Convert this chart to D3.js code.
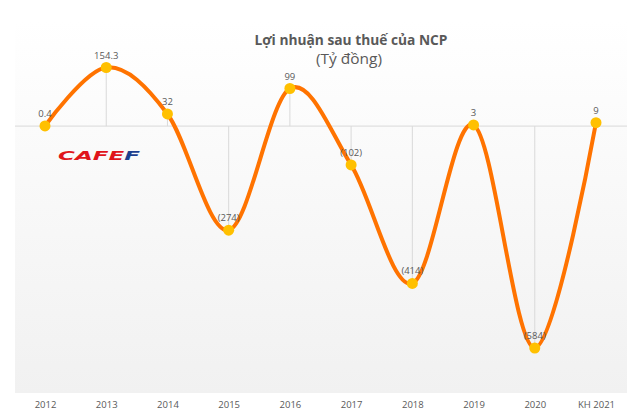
<!DOCTYPE html>
<html>
<head>
  <meta charset="utf-8">
  <title>Lợi nhuận sau thuế của NCP</title>
  <script src="https://cdn.jsdelivr.net/npm/d3@7"></script>
  <style>
    body { margin: 0; background: #fff; }
    text { font-family: "Open Sans", "DejaVu Sans", sans-serif; }
  </style>
</head>
<body>
<div id="container"></div>
<script>
  var years = ["2012", "2013", "2014", "2015", "2016", "2017", "2018", "2019", "2020", "KH 2021"];
  var profit = [0.4, 154.3, 32, -274, 99, -102, -414, 3, -584, 9];
  var valueLabels = ["0.4", "154.3", "32", "(274)", "99", "(102)", "(414)", "3", "(584)", "9"];

  var width = 640, height = 417;
  var plot = {left: 15, right: 627, top: 20, bottom: 393};

  var svg = d3.select("#container").append("svg")
    .attr("width", width).attr("height", height);

  // plot area background, white fading to light grey
  var grad = svg.append("defs").append("linearGradient")
    .attr("id", "bg").attr("x1", 0).attr("y1", 0).attr("x2", 0).attr("y2", 1);
  grad.append("stop").attr("offset", "0%").attr("stop-color", "#ffffff");
  grad.append("stop").attr("offset", "100%").attr("stop-color", "#f1f1f1");
  svg.append("rect")
    .attr("x", plot.left).attr("y", plot.top)
    .attr("width", plot.right - plot.left).attr("height", plot.bottom - plot.top)
    .attr("fill", "url(#bg)");

  var x = d3.scalePoint().domain(years).range([45, 596]);
  var y = d3.scaleLinear().domain([-584, 154.3]).range([348, 67.5]);

  // title
  svg.append("text").attr("x", 351).attr("y", 45).attr("text-anchor", "middle")
    .style("font-size", "14.5px").style("font-weight", "bold").style("fill", "#595959")
    .attr("textLength", 193).attr("lengthAdjust", "spacingAndGlyphs")
    .text("Lợi nhuận sau thuế của NCP");
  svg.append("text").attr("x", 349).attr("y", 64).attr("text-anchor", "middle")
    .style("font-size", "14px").style("fill", "#595959")
    .attr("textLength", 66).attr("lengthAdjust", "spacingAndGlyphs")
    .text("(Tỷ đồng)");

  // zero axis
  svg.append("line")
    .attr("x1", plot.left).attr("x2", plot.right)
    .attr("y1", y(0)).attr("y2", y(0))
    .attr("stroke", "#d9d9d9").attr("stroke-width", 1);

  // drop lines
  svg.append("g").selectAll("line").data(profit).enter().append("line")
    .attr("x1", function(d, i){ return x(years[i]); })
    .attr("x2", function(d, i){ return x(years[i]); })
    .attr("y1", function(d){ return y(d); })
    .attr("y2", y(0))
    .attr("stroke", "#d9d9d9").attr("stroke-width", 1);

  // logo
  var logo = svg.append("text").attr("x", 58).attr("y", 160)
    .style("font-size", "13px").style("font-weight", "bold").style("font-style", "italic")
    .style("font-family", "\"DejaVu Sans\", sans-serif")
    .attr("textLength", 82).attr("lengthAdjust", "spacingAndGlyphs");
  logo.append("tspan").attr("fill", "#e0151b").text("CAFE");
  logo.append("tspan").attr("fill", "#1d3f8f").text("F");

  // smoothed line
  var line = d3.line()
    .x(function(d, i){ return x(years[i]); })
    .y(function(d){ return y(d); })
    .curve(d3.curveCardinal.tension(0));
  svg.append("path").datum(profit)
    .attr("d", line)
    .attr("fill", "none").attr("stroke", "#ff7300").attr("stroke-width", 4)
    .attr("stroke-linecap", "round");

  // markers
  svg.append("g").selectAll("circle").data(profit).enter().append("circle")
    .attr("cx", function(d, i){ return x(years[i]); })
    .attr("cy", function(d){ return y(d); })
    .attr("r", 5.5).attr("fill", "#ffc000");

  // value labels
  svg.append("g").selectAll("text").data(profit).enter().append("text")
    .attr("x", function(d, i){ return x(years[i]); })
    .attr("y", function(d){ return y(d) - 9; })
    .attr("text-anchor", "middle")
    .style("font-size", "9.5px").style("fill", "#595959")
    .text(function(d, i){ return valueLabels[i]; });

  // x axis labels
  var xAxis = d3.axisBottom(x).tickSize(0).tickPadding(8);
  var gx = svg.append("g").attr("transform", "translate(0," + plot.bottom + ")").call(xAxis);
  gx.select(".domain").remove();
  gx.selectAll("text").style("font-size", "9.5px").style("fill", "#595959")
    .style("font-family", "\"Open Sans\", \"DejaVu Sans\", sans-serif");
</script>
</body>
</html>
